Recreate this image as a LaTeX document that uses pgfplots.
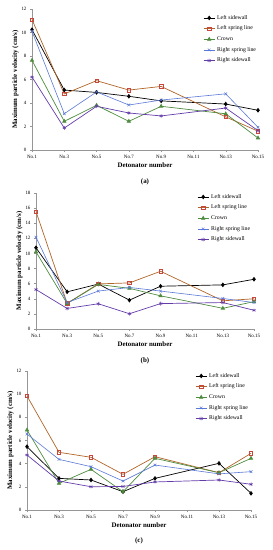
\documentclass[border=0pt]{standalone}
\usepackage{pgfplots}
\pgfplotsset{compat=1.18}
\usepackage{fontspec}
\setmainfont{Liberation Serif}
\definecolor{cblack}{RGB}{0,0,0}
\definecolor{cbrown}{RGB}{176,100,40}
\definecolor{cbrownm}{RGB}{200,70,60}
\definecolor{cgreen}{RGB}{78,140,62}
\definecolor{cblue}{RGB}{90,120,215}
\definecolor{cpurple}{RGB}{100,60,170}
\definecolor{caxis}{RGB}{150,150,150}

\pgfplotstableread{
x  ls    lsp   cr    rsp   rs
0  10.24 11.1  7.63  10.1  6.21
1  5.1   4.77  2.44  3.09  1.87
2  4.9   5.9   3.8   4.94  3.72
3  4.57  5.1   2.44  3.83  3.15
4  4.18  5.41  3.72  4.25  2.9
6  3.91  2.82  3.08  4.78  3.57
7  3.38  1.6   1.02  1.93  1.65
}\dataA

\pgfplotstableread{
x  ls    lsp   cr    rsp   rs
0  10.75 15.54 10.2  12.15 5.22
1  4.92  3.4   3.38  3.5   2.72
2  5.95  5.97  5.9   5.02  3.34
3  3.82  6.1   5.38  5.5   2.02
4  5.66  7.64  4.39  5.02  3.36
6  5.84  3.73  2.74  4.04  3.5
7  6.58  4.0   3.62  3.5   2.48
}\dataB

\pgfplotstableread{
x  ls    lsp   cr    rsp   rs
0  5.47  9.84  6.9   6.56  4.75
1  2.73  4.98  2.3   4.37  2.5
2  2.59  4.55  3.51  3.74  2.01
3  1.58  3.08  1.58  2.5   2.03
4  2.73  4.6   4.46  3.88  2.42
6  4.03  3.22  3.22  3.12  2.59
7  1.44  4.89  4.46  3.31  2.22
}\dataC

\pgfplotsset{
  panel/.style={
    scale only axis,
    anchor=south west,
    xmin=0, xmax=7, ymin=0,
    axis x line*=bottom, axis y line*=left,
    axis line style={caxis, line width=0.4pt},
    every tick/.style={caxis, line width=0.4pt},
    tick align=outside,
    major tick length=2pt,
    xtick={0,1,2,3,4,5,6,7},
    xticklabels={No.1,No.3,No.5,No.7,No.9,No.11,No.13,No.15},
    ticklabel style={font=\fontsize{5}{6}\selectfont},
    /pgf/number format/assume math mode=true,
    xlabel={\textbf{Detonator number}},
    ylabel={\textbf{Maximum particle velocity (cm/s)}},
    label style={font=\fontsize{6.9}{8}\selectfont},
    xlabel style={yshift=3pt},
    ylabel style={yshift=-4pt},
    clip=false,
    legend style={draw=none, fill=none, font=\fontsize{5.8}{7}\selectfont,
      row sep=1.2pt, anchor=north west, legend cell align=left},
    legend image post style={},
    legend image code/.code={
      \draw[mark repeat=2,mark phase=2] plot coordinates {(0cm,0cm) (0.2cm,0cm) (0.4cm,0cm)};},
  },
  sLS/.style={cblack, line width=0.7pt, mark=diamond*, mark size=1.8pt, mark options={fill=black, draw=black}},
  sLSP/.style={cbrown, line width=0.7pt, mark=square, mark size=1.7pt, mark options={draw=cbrownm, fill=none, line width=0.5pt}},
  sCR/.style={cgreen, line width=0.7pt, mark=triangle*, mark size=1.9pt, mark options={fill=cgreen, draw=cgreen}},
  sRSP/.style={cblue, line width=0.6pt, mark=x, mark size=1.9pt, mark options={draw=cblue, line width=0.5pt}},
  sRS/.style={cpurple, line width=0.7pt, mark=asterisk, mark size=1.9pt, mark options={draw=cpurple, line width=0.5pt}},
}

\begin{document}
\begin{tikzpicture}
\useasboundingbox (0,0) rectangle (273bp,550bp);

% Panel (a)
\begin{axis}[panel, at={(32bp,400bp)}, width=226bp, height=141bp, ymax=12,
  ytick={0,2,4,6,8,10,12},
  legend style={at={(168bp,139bp)}, anchor=north west}]
\addplot[sLS] table[x=x,y=ls] {\dataA};
\addplot[sLSP] table[x=x,y=lsp] {\dataA};
\addplot[sCR] table[x=x,y=cr] {\dataA};
\addplot[sRSP] table[x=x,y=rsp] {\dataA};
\addplot[sRS] table[x=x,y=rs] {\dataA};
\legend{Left sidewall, Left spring line, Crown, Right spring line, Right sidewall}
\node[font=\bfseries\fontsize{7}{8}\selectfont] at (rel axis cs:0.5,0) [yshift=-32bp] {(a)};
\end{axis}

% Panel (b)
\begin{axis}[panel, at={(36bp,221bp)}, width=218bp, height=136bp, ymax=18,
  ytick={0,2,4,6,8,10,12,14,16,18},
  legend style={at={(158bp,139bp)}, anchor=north west}]
\addplot[sLS] table[x=x,y=ls] {\dataB};
\addplot[sLSP] table[x=x,y=lsp] {\dataB};
\addplot[sCR] table[x=x,y=cr] {\dataB};
\addplot[sRSP] table[x=x,y=rsp] {\dataB};
\addplot[sRS] table[x=x,y=rs] {\dataB};
\legend{Left sidewall, Left spring line, Crown, Right spring line, Right sidewall}
\node[font=\bfseries\fontsize{7}{8}\selectfont] at (rel axis cs:0.5,0) [yshift=-32bp] {(b)};
\end{axis}

% Panel (c)
\begin{axis}[panel, at={(27bp,40bp)}, width=224bp, height=139bp, ymax=12,
  ytick={0,2,4,6,8,10,12},
  legend style={at={(165bp,141bp)}, anchor=north west}]
\addplot[sLS] table[x=x,y=ls] {\dataC};
\addplot[sLSP] table[x=x,y=lsp] {\dataC};
\addplot[sCR] table[x=x,y=cr] {\dataC};
\addplot[sRSP] table[x=x,y=rsp] {\dataC};
\addplot[sRS] table[x=x,y=rs] {\dataC};
\legend{Left sidewall, Left spring line, Crown, Right spring line, Right sidewall}
\node[font=\bfseries\fontsize{7}{8}\selectfont] at (rel axis cs:0.5,0) [yshift=-31bp] {(c)};
\end{axis}
\end{tikzpicture}
\end{document}
